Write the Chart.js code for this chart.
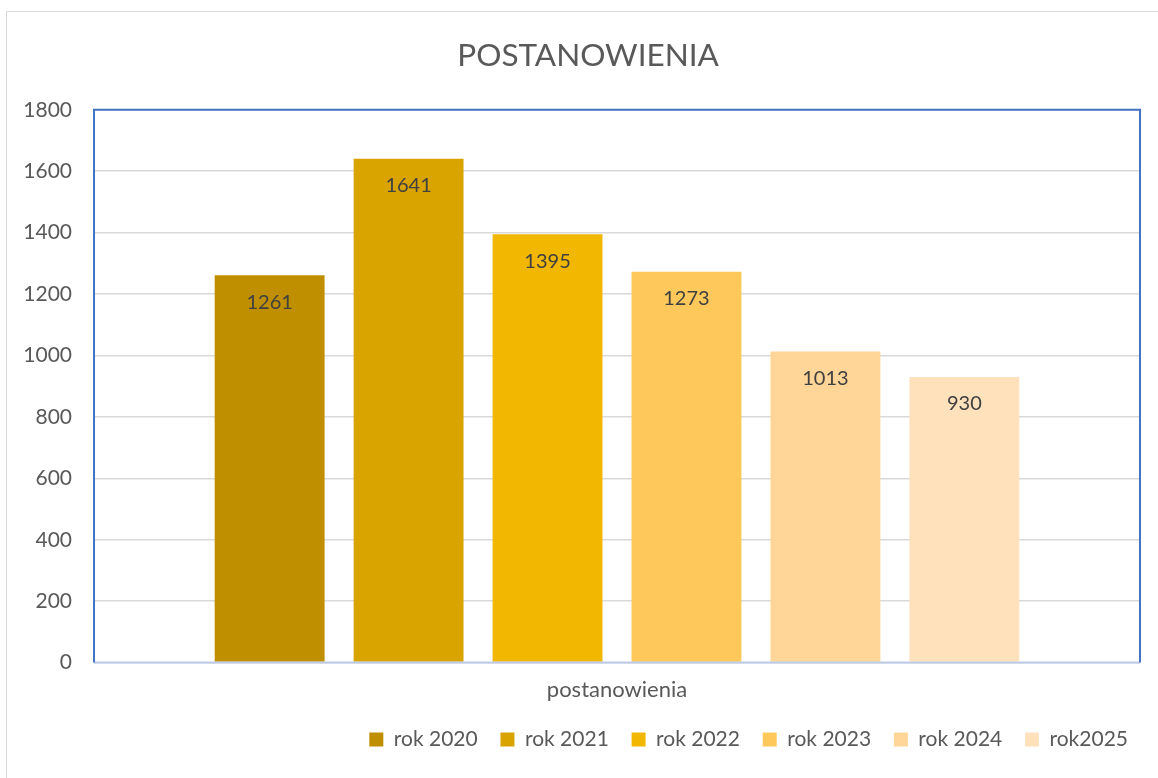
<!DOCTYPE html>
<html>
<head>
<meta charset="utf-8">
<script src="https://cdn.jsdelivr.net/npm/chart.js@4"></script>
<style>
  html, body { margin: 0; padding: 0; background: #fff; overflow: hidden; }
  #ramka { position: absolute; left: 6px; top: 11px; width: 2000px; height: 2000px; border: 1.5px solid #d9d9d9; }
  #wrap { position: absolute; left: 0; top: 0; width: 1176px; height: 778px; }
</style>
</head>
<body>
<div id="ramka"></div>
<div id="wrap"><canvas id="wykres"></canvas></div>
<script>
// Dane wykresu
const kategorie = ['postanowienia'];
const lata = ['rok 2020', 'rok 2021', 'rok 2022', 'rok 2023', 'rok 2024', 'rok2025'];
const wartosci = [1261, 1641, 1395, 1273, 1013, 930];
const kolory = ['#BF8F00', '#D9A300', '#F2B700', '#FFC85A', '#FFD697', '#FFE1BB'];
const osY = { min: 0, max: 1800, krok: 200 };

const czcionka = "Lato, 'Open Sans', sans-serif";
const odstep = '\u00a0\u00a0';

// Etykiety danych wewnątrz słupka
const etykietyDanych = {
  id: 'etykietyDanych',
  afterDatasetsDraw(chart) {
    const ctx = chart.ctx;
    ctx.save();
    ctx.font = '20px ' + czcionka;
    ctx.fillStyle = '#404040';
    ctx.textAlign = 'center';
    ctx.textBaseline = 'middle';
    chart.data.datasets.forEach((ds, i) => {
      const meta = chart.getDatasetMeta(i);
      meta.data.forEach((bar, j) => {
        ctx.fillText(ds.data[j], bar.x, bar.y + 27);
      });
    });
    ctx.restore();
  }
};

// Ramka obszaru wykresu (lewa, górna, prawa niebieska; dolna jasna)
const ramkaWykresu = {
  id: 'ramkaWykresu',
  afterDraw(chart) {
    const { left, right, top, bottom } = chart.chartArea;
    const ctx = chart.ctx;
    ctx.save();
    ctx.lineWidth = 2;
    ctx.strokeStyle = '#BCCBE8';
    ctx.beginPath();
    ctx.moveTo(left, bottom);
    ctx.lineTo(right, bottom);
    ctx.stroke();
    ctx.strokeStyle = '#4472C4';
    ctx.beginPath();
    ctx.moveTo(left, bottom);
    ctx.lineTo(left, top);
    ctx.lineTo(right, top);
    ctx.lineTo(right, bottom);
    ctx.stroke();
    ctx.restore();
  }
};

new Chart(document.getElementById('wykres'), {
  type: 'bar',
  data: {
    labels: kategorie,
    datasets: lata.map((rok, i) => ({
      label: rok,
      data: [wartosci[i]],
      backgroundColor: kolory[i],
      borderWidth: 0
    }))
  },
  options: {
    responsive: true,
    maintainAspectRatio: false,
    animation: false,
    categoryPercentage: 0.797,
    barPercentage: 0.791,
    layout: { padding: { top: 37, right: 36, left: 0, bottom: 18 } },
    scales: {
      x: {
        grid: { display: false, drawTicks: false },
        border: { display: false },
        ticks: { color: '#595959', font: { family: czcionka, size: 22 }, padding: 14 }
      },
      y: {
        min: osY.min,
        max: osY.max,
        ticks: {
          stepSize: osY.krok,
          color: '#595959',
          font: { family: czcionka, size: 21 },
          padding: 22,
          callback: v => String(v)
        },
        grid: { color: '#d9d9d9', lineWidth: 1.5, drawTicks: false },
        border: { display: false },
        afterFit(scale) { scale.width = 94; }
      }
    },
    plugins: {
      title: {
        display: true,
        text: '\u00a0\u00a0\u00a0\u00a0\u2009POSTANOWIENIA',
        color: '#595959',
        font: { family: czcionka, size: 31.5, weight: 'normal' },
        padding: { top: 0, bottom: 35 }
      },
      legend: {
        position: 'bottom',
        align: 'end',
        labels: {
          color: '#595959',
          font: { family: czcionka, size: 21 },
          boxWidth: 14,
          boxHeight: 14,
          padding: 12,
          generateLabels(chart) {
            const etykiety = Chart.defaults.plugins.legend.labels.generateLabels(chart);
            return etykiety.map((l, i) =>
              i < etykiety.length - 1 ? Object.assign(l, { text: l.text + odstep }) : l);
          }
        }
      },
      tooltip: { enabled: false }
    }
  },
  plugins: [etykietyDanych, ramkaWykresu]
});
</script>
</body>
</html>
